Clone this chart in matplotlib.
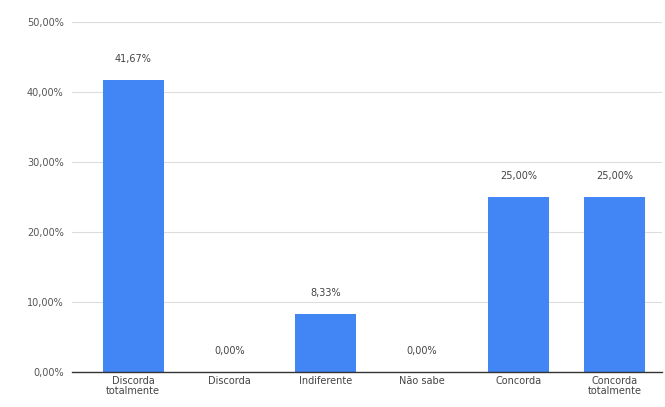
import matplotlib.pyplot as plt
from matplotlib.ticker import FuncFormatter

# Dados
categorias = ['Discorda\ntotalmente', 'Discorda', 'Indiferente', 'Não sabe',
              'Concorda', 'Concorda\ntotalmente']
valores = [41.67, 0.00, 8.33, 0.00, 25.00, 25.00]
rotulos = ['41,67%', '0,00%', '8,33%', '0,00%', '25,00%', '25,00%']

fig = plt.figure(figsize=(6.65, 4.07), dpi=100)
ax = fig.add_axes([72 / 665, 35 / 407, 590 / 665, 350 / 407])

x = range(len(categorias))
ax.bar(x, valores, width=0.635, color='#4285f4', zorder=3)

for xi, v, r in zip(x, valores, rotulos):
    ax.text(xi, v + 2.3, r, ha='center', va='bottom', fontsize=7, color='#444444')

ax.set_xlim(-0.635, 5.49)
ax.set_ylim(0, 50)
ax.set_yticks([0, 10, 20, 30, 40, 50])
ax.yaxis.set_major_formatter(FuncFormatter(lambda v, p: f'{v:.2f}%'.replace('.', ',')))
ax.set_xticks(list(x))
ax.set_xticklabels(categorias, fontsize=7, color='#444444', linespacing=0.95)
ax.tick_params(axis='y', labelsize=7, labelcolor='#555555', length=0, pad=6)
ax.tick_params(axis='x', length=0, pad=3)

ax.grid(axis='y', color='#dddddd', linewidth=0.8, zorder=0)
for s in ['top', 'right', 'left']:
    ax.spines[s].set_visible(False)
ax.spines['bottom'].set_color('#333333')
ax.spines['bottom'].set_linewidth(1)
ax.spines['bottom'].set_zorder(4)

fig.savefig('out.png', dpi=100)
